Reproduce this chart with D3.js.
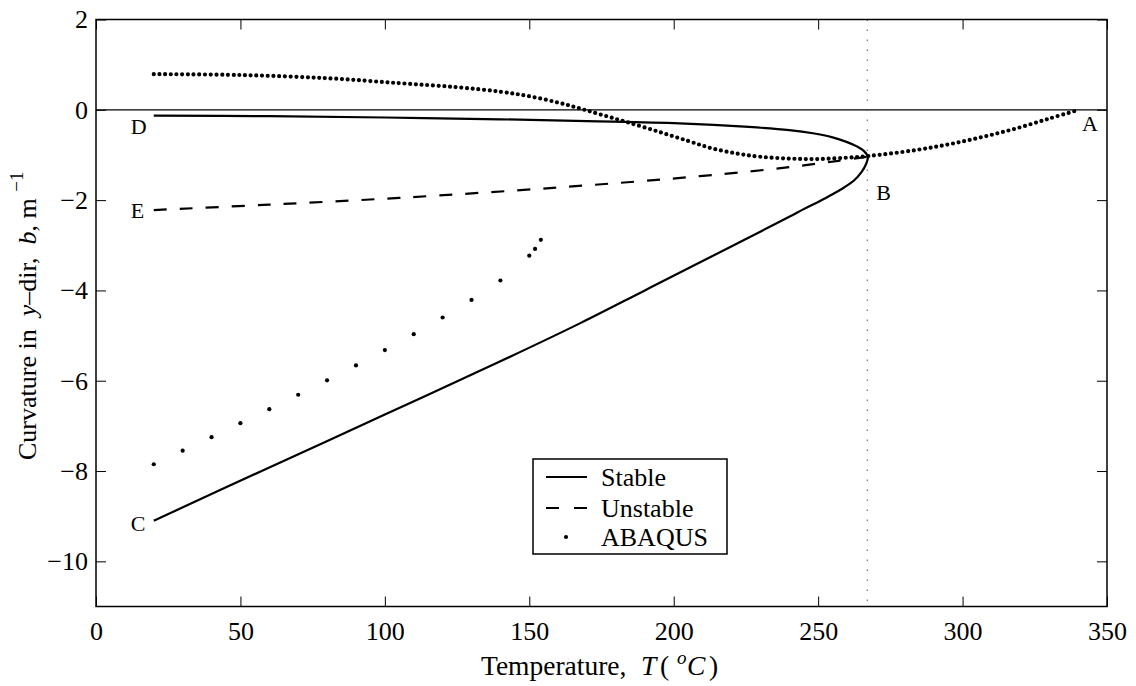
<!DOCTYPE html>
<html>
<head>
<meta charset="utf-8">
<script src="https://cdn.jsdelivr.net/npm/d3@7"></script>
<style>
  body { margin: 0; background: #fff; }
  svg text { font-family: "Liberation Serif", "Times New Roman", serif; fill: #000; }
</style>
</head>
<body>
<svg id="chart" width="1136" height="686"></svg>
<script>
// tick values
const xTicks = [0, 50, 100, 150, 200, 250, 300, 350];
const yTicks = [2, 0, -2, -4, -6, -8, -10];

// stable branch, D -> nose near B -> C  [T, b]
const stable = [
  [20, -0.13], [60, -0.14], [100, -0.17], [140, -0.21], [170, -0.25], [202, -0.30],
  [226, -0.38], [240, -0.45], [248.2, -0.52], [255, -0.61], [259.8, -0.71], [263.4, -0.81],
  [265.8, -0.91], [267.2, -1.04], [266.6, -1.20], [265, -1.38], [262.5, -1.56], [259, -1.72],
  [255, -1.87], [250, -2.04], [245, -2.20], [240, -2.37], [225, -2.86], [210, -3.35],
  [190, -4.00], [167.5, -4.73], [140, -5.57], [100, -6.75], [60, -7.92], [20, -9.1]
];

// unstable branch, E -> B
const unstable = [
  [20, -2.22], [60, -2.10], [105, -1.95], [160, -1.72], [209, -1.47], [240, -1.27],
  [257, -1.13], [267, -1.04]
];

// ABAQUS, upper run (dense)
const abaqusUpper = [
  [20, 0.79], [50, 0.77], [80, 0.70], [105, 0.59], [125, 0.50], [140, 0.40], [150, 0.30],
  [160, 0.16], [167.5, 0.03], [175, -0.11], [183.7, -0.27], [195, -0.49], [205, -0.69],
  [213, -0.85], [222, -0.97], [230, -1.04], [240, -1.08], [250, -1.09], [260, -1.06],
  [268, -1.02], [284, -0.89], [295.6, -0.76], [307, -0.60], [318.7, -0.41], [330.2, -0.19],
  [340.4, 0.0]
];

// ABAQUS, lower run (sparse)
const abaqusLower = [
  [20, -7.85], [30, -7.55], [40, -7.25], [50, -6.94], [60, -6.63], [70, -6.31], [80, -5.99],
  [90, -5.66], [100, -5.32], [110, -4.97], [120, -4.60], [130, -4.21], [140, -3.78],
  [150, -3.23], [152, -3.08], [154, -2.88]
];

const pointLabels = [
  { name: 'A', T: 340, b: 0 },
  { name: 'B', T: 267, b: -1.04 },
  { name: 'C', T: 20, b: -9.1 },
  { name: 'D', T: 20, b: -0.13 },
  { name: 'E', T: 20, b: -2.22 }
];
const bLine = 267;

const svg = d3.select('#chart');
const mLeft = 96, mRight = 1107, mTop = 19.5, mBottom = 606.5;

const x = d3.scaleLinear().domain([0, 350]).range([mLeft, mRight]);
const y = d3.scaleLinear().domain([-11, 2]).range([mBottom, mTop]);

// axes, ticks pointing inward
const gx = svg.append('g').attr('transform', `translate(0,${mBottom})`)
  .call(d3.axisBottom(x).tickValues(xTicks).tickSizeInner(-10).tickSizeOuter(0).tickPadding(15));
const gxt = svg.append('g').attr('transform', `translate(0,${mTop})`)
  .call(d3.axisTop(x).tickValues(xTicks).tickSizeInner(-10).tickSizeOuter(0).tickFormat(''));
const gy = svg.append('g').attr('transform', `translate(${mLeft},0)`)
  .call(d3.axisLeft(y).tickValues(yTicks).tickSizeInner(-10).tickSizeOuter(0).tickPadding(8));
const gyr = svg.append('g').attr('transform', `translate(${mRight},0)`)
  .call(d3.axisRight(y).tickValues(yTicks).tickSizeInner(-10).tickSizeOuter(0).tickFormat(''));

[gx, gxt, gy, gyr].forEach(g => {
  g.attr('font-family', null).attr('font-size', null);
  g.select('.domain').remove();
  g.selectAll('line').attr('stroke', '#000').attr('stroke-width', 1);
  g.selectAll('text').style('font-size', '26px');
});

// zero line
svg.append('line')
  .attr('x1', x(0)).attr('x2', x(350)).attr('y1', y(0)).attr('y2', y(0))
  .attr('stroke', '#000').attr('stroke-width', 1.3);

// dotted vertical at B
svg.append('line')
  .attr('x1', x(bLine)).attr('x2', x(bLine)).attr('y1', mTop).attr('y2', mBottom)
  .attr('stroke', '#555').attr('stroke-width', 1).attr('stroke-dasharray', '1.5,8.5');

const line = d3.line().x(d => x(d[0])).y(d => y(d[1])).curve(d3.curveCatmullRom.alpha(0.5));

svg.append('path').datum(stable).attr('d', line)
  .attr('fill', 'none').attr('stroke', '#000').attr('stroke-width', 2.2);

svg.append('path').datum(unstable).attr('d', line)
  .attr('fill', 'none').attr('stroke', '#000').attr('stroke-width', 2.2)
  .attr('stroke-dasharray', '13,13');

svg.append('path').datum(abaqusUpper).attr('d', line)
  .attr('fill', 'none').attr('stroke', '#000').attr('stroke-width', 4.2)
  .attr('stroke-linecap', 'round').attr('stroke-dasharray', '0,5.7');

svg.selectAll('circle.ab').data(abaqusLower).enter().append('circle')
  .attr('class', 'ab')
  .attr('cx', d => x(d[0])).attr('cy', d => y(d[1])).attr('r', 2.1).attr('fill', '#000');

// frame
svg.append('rect')
  .attr('x', mLeft).attr('y', mTop).attr('width', mRight - mLeft).attr('height', mBottom - mTop)
  .attr('fill', 'none').attr('stroke', '#000').attr('stroke-width', 1.5);

// point labels
const offs = { A: [4, 21], B: [9, 43], C: [-23, 10], D: [-23, 18], E: [-23, 8] };
svg.selectAll('text.pl').data(pointLabels).enter().append('text')
  .attr('class', 'pl')
  .attr('x', d => x(d.T) + offs[d.name][0])
  .attr('y', d => y(d.b) + offs[d.name][1])
  .style('font-size', '22px')
  .text(d => d.name);

// axis titles
const xt = svg.append('g');
xt.append('text').attr('x', 481).attr('y', 675).style('font-size', '27.5px').text('Temperature,');
xt.append('text').attr('x', 641).attr('y', 675).style('font-size', '27.5px').style('font-style', 'italic').text('T');
xt.append('text').attr('x', 660).attr('y', 675).style('font-size', '27.5px').text('(');
xt.append('text').attr('x', 677).attr('y', 664).style('font-size', '19px').style('font-style', 'italic').text('o');
xt.append('text').attr('x', 687).attr('y', 675).style('font-size', '27.5px').style('font-style', 'italic').text('C');
xt.append('text').attr('x', 709).attr('y', 675).style('font-size', '27.5px').text(')');

svg.append('text')
  .attr('transform', 'translate(36,460) rotate(-90)')
  .style('font-size', '26px')
  .html('Curvature in&#160;&#160;<tspan font-style="italic">y</tspan>–dir,&#160;&#160;<tspan font-style="italic">b</tspan>, m <tspan style="font-size:19px" dy="-13">−1</tspan>');

// legend
const lg = svg.append('g');
lg.append('rect').attr('x', 533).attr('y', 459).attr('width', 194).attr('height', 95)
  .attr('fill', '#fff').attr('stroke', '#000').attr('stroke-width', 1.5);
const legendItems = ['Stable', 'Unstable', 'ABAQUS'];
const ly = [477, 508, 537];
legendItems.forEach((name, i) => {
  if (i === 0) lg.append('line').attr('x1', 546).attr('x2', 587).attr('y1', ly[i]).attr('y2', ly[i])
    .attr('stroke', '#000').attr('stroke-width', 2.2);
  if (i === 1) lg.append('line').attr('x1', 546).attr('x2', 587).attr('y1', ly[i]).attr('y2', ly[i])
    .attr('stroke', '#000').attr('stroke-width', 2.2).attr('stroke-dasharray', '13,15');
  if (i === 2) lg.append('circle').attr('cx', 566).attr('cy', ly[i]).attr('r', 2.1).attr('fill', '#000');
  lg.append('text').attr('x', 601).attr('y', ly[i] + 9).style('font-size', '26px').text(name);
});
</script>
</body>
</html>
